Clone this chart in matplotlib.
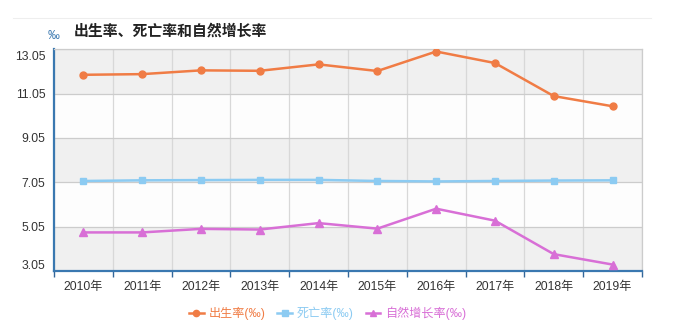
import numpy as np
import matplotlib.pyplot as plt
import matplotlib.transforms as mtransforms
from matplotlib.lines import Line2D

plt.rcParams['font.family'] = ['Liberation Sans', 'Noto Sans CJK SC', 'DejaVu Sans']

# Data
years = ['2010年', '2011年', '2012年', '2013年', '2014年',
         '2015年', '2016年', '2017年', '2018年', '2019年']
birth_rate = [11.90, 11.93, 12.10, 12.08, 12.37, 12.07, 12.95, 12.43, 10.94, 10.48]
death_rate = [7.11, 7.14, 7.15, 7.16, 7.16, 7.11, 7.09, 7.11, 7.13, 7.14]
growth_rate = [4.79, 4.79, 4.95, 4.92, 5.21, 4.96, 5.86, 5.32, 3.81, 3.34]
y_ticks = [3.05, 5.05, 7.05, 9.05, 11.05, 13.05]

c_birth = '#f07c45'
c_death = '#8ccbf2'
c_growth = '#d86fd6'

fig = plt.figure(figsize=(7, 3.28), dpi=100)
ax = fig.add_axes([0.0771, 0.1738, 0.8400, 0.6759])

x = np.arange(len(years))
ax.set_xlim(-0.5, len(years) - 0.5)
ax.set_ylim(y_ticks[0], y_ticks[-1])

# alternating background bands
for i in range(len(y_ticks) - 1):
    col = '#f0f0f0' if i % 2 == 0 else '#fdfdfd'
    ax.axhspan(y_ticks[i], y_ticks[i + 1], color=col, zorder=0, lw=0)

ax.plot(x, birth_rate, color=c_birth, lw=1.8, marker='o', ms=5, label='出生率(‰)', zorder=3)
ax.plot(x, death_rate, color=c_death, lw=1.8, marker='s', ms=5, label='死亡率(‰)', zorder=3)
ax.plot(x, growth_rate, color=c_growth, lw=1.8, marker='^', ms=5.5, label='自然增长率(‰)', zorder=3)

ax.set_yticks(y_ticks)
ax.set_yticklabels([f'{v:.2f}' for v in y_ticks], fontsize=8.7, color='#333333')
ax.set_xticks(x)
ax.set_xticklabels(years, fontsize=8.7, color='#333333')
ax.set_xticks(np.arange(-0.5, len(years)), minor=True)
ax.tick_params(axis='x', which='major', length=0, pad=7)
ax.tick_params(axis='x', which='minor', length=4, color='#336699', width=1)
ax.tick_params(axis='y', length=0, pad=6)

# end labels sit inside the plot range, as in the original
yl = ax.get_yticklabels()
yl[0].set_transform(yl[0].get_transform() + mtransforms.ScaledTranslation(0, 6 / 100, fig.dpi_scale_trans))
yl[-1].set_transform(yl[-1].get_transform() + mtransforms.ScaledTranslation(0, -6 / 100, fig.dpi_scale_trans))

ax.grid(axis='y', which='major', color='#cccccc', lw=0.9, zorder=1)
ax.grid(axis='x', which='minor', color='#d8d8d8', lw=0.9, zorder=1)
ax.set_axisbelow(True)

for side in ['top', 'right']:
    ax.spines[side].set_color('#cccccc')
    ax.spines[side].set_linewidth(0.9)
ax.spines['left'].set_color('#3a78b0')
ax.spines['left'].set_linewidth(1.6)
ax.spines['bottom'].set_color('#3a78b0')
ax.spines['bottom'].set_linewidth(1.6)

fig.text(0.105, 0.905, '出生率、死亡率和自然增长率', fontsize=10.7, fontweight='bold',
         color='#222222', va='center', ha='left')
fig.text(0.068, 0.89, '‰', fontsize=8.5, color='#3a78b0', va='center', ha='left')
fig.add_artist(Line2D([0.018, 0.93], [0.944, 0.944], color='#eeeeee', lw=0.8))

leg = fig.legend(loc='center', bbox_to_anchor=(0.468, 0.045), ncol=3, frameon=False,
                 fontsize=8.7, handlelength=1.2, handletextpad=0.4, columnspacing=1.0,
                 labelcolor='linecolor', markerscale=0.9)

fig.savefig('out.png', dpi=100)
